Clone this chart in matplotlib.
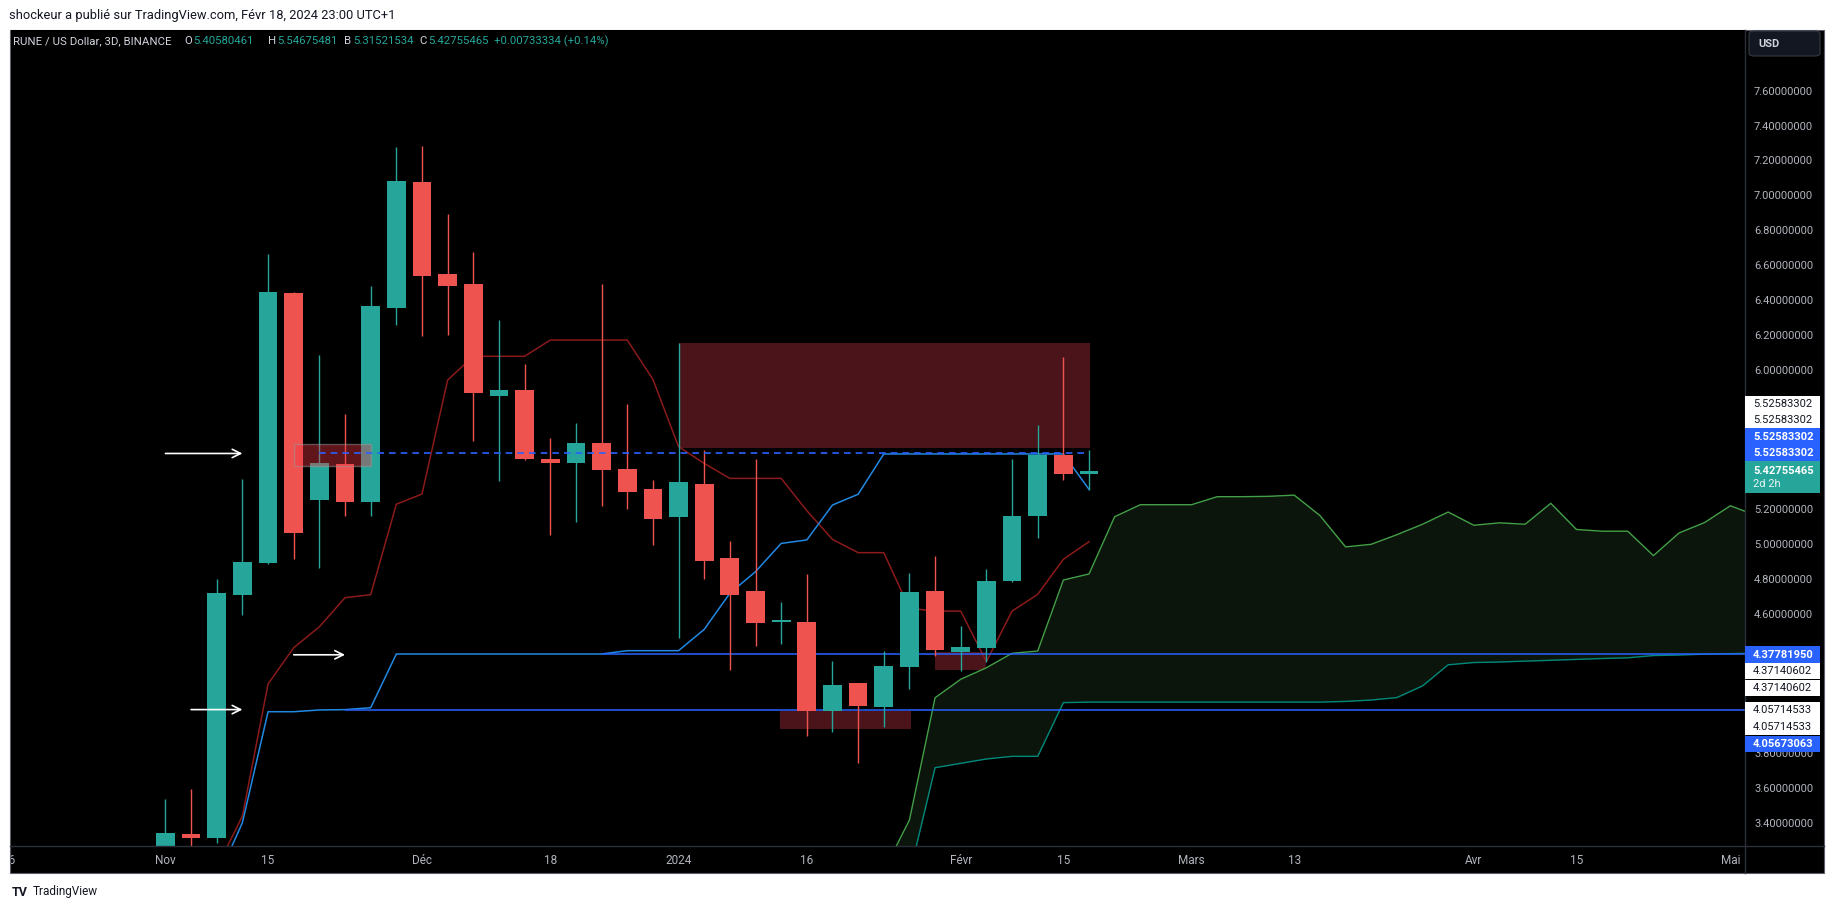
import matplotlib
matplotlib.use("Agg")
import matplotlib.pyplot as plt
from matplotlib.patches import Rectangle, FancyBboxPatch
from matplotlib.lines import Line2D
from matplotlib.transforms import blended_transform_factory, Bbox, TransformedBbox

plt.rcParams['font.family'] = ['Roboto', 'DejaVu Sans']

# ---- candles (3D bars, index 0 = early Nov 2023) ----
bar_idx = list(range(37))
opens = [3.25, 3.344, 3.322, 4.716, 4.898, 6.446, 5.26, 5.465, 5.25, 6.361, 7.082, 6.555, 6.497,
         5.857, 5.889, 5.493, 5.473, 5.586, 5.437, 5.322, 5.163, 5.351, 4.926, 4.737, 4.561,
         4.559, 4.051, 4.209, 4.074, 4.303, 4.737, 4.387, 4.412, 4.796, 5.169, 5.517, 5.40580461]
highs = [3.544, 3.60, 4.806, 5.38, 6.669, 6.45, 6.09, 5.75, 6.486, 7.283, 7.289, 6.899, 6.681,
         6.291, 6.039, 5.614, 5.70, 6.497, 5.809, 5.373, 6.161, 5.546, 5.024, 5.494, 4.674,
         4.834, 4.336, 4.212, 4.393, 4.843, 4.938, 4.536, 4.863, 5.494, 5.689, 6.079, 5.54675481]
lows = [3.20, 3.20, 3.29, 4.60, 4.89, 4.92, 4.87, 5.17, 5.17, 6.264, 6.201, 6.207, 5.599,
        5.37, 5.49, 5.058, 5.134, 5.226, 5.209, 5.003, 4.466, 4.804, 4.282, 4.423, 4.435,
        3.907, 3.930, 3.753, 3.959, 4.177, 4.366, 4.279, 4.332, 4.79, 5.043, 5.375, 5.31521534]
closes = [3.349, 3.322, 4.725, 4.903, 6.451, 5.07, 5.47, 5.25, 6.37, 7.087, 6.545, 6.488, 5.874,
          5.889, 5.496, 5.473, 5.586, 5.433, 5.307, 5.152, 5.362, 4.911, 4.716, 4.555, 4.571,
          4.051, 4.198, 4.079, 4.307, 4.731, 4.399, 4.416, 4.794, 5.167, 5.517, 5.406, 5.42755465]

# ---- ichimoku lines ----
line_idx = list(range(2, 37))
red_line = [3.15, 3.447, 4.204, 4.412, 4.532, 4.699, 4.716, 5.235, 5.293, 5.947, 6.083, 6.083,
            6.083, 6.176, 6.176, 6.176, 6.176, 5.951, 5.565, 5.469, 5.383, 5.383, 5.383, 5.198,
            5.033, 4.957, 4.957, 4.638, 4.622, 4.622, 4.332, 4.622, 4.718, 4.919, 5.020]
blue_line = [3.08, 3.409, 4.045, 4.045, 4.055, 4.057, 4.068,
             4.376, 4.376, 4.376, 4.376, 4.376, 4.376, 4.376, 4.376, 4.376,
             4.395, 4.395, 4.395, 4.517, 4.724, 4.848, 5.010, 5.030, 5.230, 5.292,
             5.523, 5.523, 5.523, 5.523, 5.523, 5.523, 5.523, 5.523, 5.320]
cloud_idx = list(range(28, 63))
span_a = [3.133, 3.424, 4.125, 4.231, 4.297, 4.380, 4.393, 4.800, 4.835, 5.163, 5.232, 5.232,
          5.232, 5.278, 5.278, 5.28, 5.287, 5.17, 4.99, 5.005, 5.06, 5.12, 5.19, 5.114, 5.128,
          5.12, 5.24, 5.09, 5.08, 5.08, 4.94, 5.07, 5.13, 5.226, 5.17]
span_b = [2.5, 3.11, 3.724, 3.749, 3.774, 3.789, 3.789, 4.097,
          4.10, 4.10, 4.10, 4.10, 4.10, 4.10, 4.10, 4.10, 4.10, 4.10,
          4.104, 4.112, 4.126, 4.193, 4.314, 4.327, 4.33, 4.335, 4.34, 4.345, 4.35,
          4.354, 4.367, 4.37, 4.375, 4.378, 4.38]

# ---- drawings ----
hline_levels = [4.37781950, 4.05673063]
hline_start = [17, 7]
dashed_level = 5.52583302
arrow_levels = [5.52583302, 4.37140602, 4.05714533]
arrow_start = [0.0, 5.0, 1.0]
arrow_end = [3.0, 7.0, 3.0]
# (left idx, right idx, low, high)
zones = [(20.0, 36.03, 5.555, 6.161), (23.97, 29.05, 3.947, 4.049), (30.0, 32.0, 4.285, 4.388)]
small_zone = (5.0, 8.0, 5.452, 5.578)

# ---- axis texts ----
price_ticks = [7.6, 7.4, 7.2, 7.0, 6.8, 6.6, 6.4, 6.2, 6.0, 5.8, 5.6, 5.4, 5.2, 5.0, 4.8, 4.6,
               4.4, 4.2, 4.0, 3.8, 3.6, 3.4]
hidden_ticks = [5.8, 5.6, 5.4, 4.4, 4.2, 4.0]
date_pos = [-6.1, 0, 4, 10, 15, 20, 25, 31, 35, 40, 44, 51, 55, 61]
date_text = ['26', 'Nov', '15', 'Déc', '18', '2024', '16', 'Févr', '15', 'Mars', '13', 'Avr', '15', 'Mai']
label_texts = ['5.52583302'] * 4 + ['4.37781950', '4.37140602', '4.37140602',
                                    '4.05714533', '4.05714533', '4.05673063']
label_kinds = ['w', 'w', 'b', 'b', 'b', 'w', 'w', 'w', 'w', 'b']
label_pos = [5.811, 5.717, 5.623, 5.529, 4.372, 4.278, 4.181, 4.053, 3.957, 3.860]
ohlc_letters = ['O', 'H', 'B', 'C']
ohlc_values = ['5.40580461', '5.54675481', '5.31521534', '5.42755465']
ohlc_x = [184.3, 268.3, 344.3, 419.3]
change_text = '+0.00733334 (+0.14%)'

W, H = 1835, 909
fig = plt.figure(figsize=(W / 100, H / 100), dpi=100, facecolor='white')


def fx(px):
    return px / W


def fy(py):
    return 1 - py / H


fig.patches.append(Rectangle((fx(10), fy(873)), fx(1824) - fx(10), fy(30) - fy(873),
                             transform=fig.transFigure, facecolor='black',
                             edgecolor='#5d606b', lw=0.8, zorder=-2))

ax = fig.add_axes([fx(10.5), fy(846), fx(1745) - fx(10.5), fy(30) - fy(846)])
ax.set_facecolor('black')
for s in ax.spines.values():
    s.set_visible(False)
ax.set_xticks([])
ax.set_yticks([])
ax.set_xlim(-6.04, 61.57)
ax.set_ylim(3.275, 7.954)

# zones behind candles
for x0, x1, y0, y1 in zones:
    ax.add_patch(Rectangle((x0, y0), x1 - x0, y1 - y0, facecolor='#4a141a', lw=0, zorder=0.5))

# cloud
ax.fill_between(cloud_idx, span_a, span_b, color='#0b150c', lw=0, zorder=1)
ax.plot(cloud_idx, span_a, color='#43a047', lw=1.0, zorder=2)
ax.plot(cloud_idx, span_b, color='#00897b', lw=1.0, zorder=2)

ax.plot(line_idx, red_line, color='#8b1a1a', lw=1.1, zorder=2.2)
ax.plot(line_idx, blue_line, color='#2189e3', lw=1.1, zorder=2.2)

for lvl, st in zip(hline_levels, hline_start):
    ax.hlines(lvl, st, 62, color='#2962ff', lw=1.1, zorder=2.4)

# candles
up, down = '#26a69a', '#ef5350'
colors = [up if c >= o else down for o, c in zip(opens, closes)]
ax.vlines(bar_idx, lows, highs, colors=colors, lw=1.0, zorder=4)
body_h = [max(abs(c - o), 0.01) for o, c in zip(opens, closes)]
body_b = [min(o, c) for o, c in zip(opens, closes)]
ax.bar(bar_idx, body_h, bottom=body_b, width=0.73, color=colors, lw=0, zorder=4.5)

# small zone on top
x0, x1, y0, y1 = small_zone
ax.add_patch(Rectangle((x0, y0), x1 - x0, y1 - y0, facecolor=(0.95, 0.21, 0.27, 0.4),
                       edgecolor=(0.6, 0.6, 0.6, 0.5), lw=1, zorder=5))

ax.hlines(dashed_level, 6, 36, color='#2962ff', lw=1.2, linestyles=(0, (4, 3)), zorder=6)

for s, e, lvl in zip(arrow_start, arrow_end, arrow_levels):
    ax.annotate('', xy=(e, lvl), xytext=(s, lvl),
                arrowprops=dict(arrowstyle='->', color='white', lw=1.2,
                                shrinkA=0, shrinkB=0, mutation_scale=15), zorder=7)

# separators
fig.add_artist(Line2D([fx(1745), fx(1745)], [fy(30), fy(873)], transform=fig.transFigure,
                      color='#2a2e39', lw=1))
fig.add_artist(Line2D([fx(10), fx(1824)], [fy(846), fy(846)], transform=fig.transFigure,
                      color='#2a2e39', lw=1))

# header
fig.text(fx(9), fy(15), 'shockeur a publié sur TradingView.com, Févr 18, 2024 23:00 UTC+1',
         color='#131722', fontsize=9.3, va='center')
fig.text(fx(13.3), fy(41), 'RUNE / US Dollar, 3D, BINANCE', color='#d1d4dc', fontsize=8.2, va='center')
for let, val, px in zip(ohlc_letters, ohlc_values, ohlc_x):
    fig.text(fx(px), fy(41), let, color='#d1d4dc', fontsize=8.2, va='center')
    fig.text(fx(px + 8.5), fy(41), val, color='#26a69a', fontsize=8.2, va='center')
fig.text(fx(494.3), fy(41), change_text, color='#26a69a', fontsize=8.2, va='center')

# price axis
tr = blended_transform_factory(fig.transFigure, ax.transData)
for v in price_ticks:
    if v in hidden_ticks:
        continue
    fig.text(fx(1754), v, '%.8f' % v, transform=tr, color='#b2b5be', fontsize=8,
             va='center', ha='left', zorder=3)

lh = 16.4 / 174.4
for txt, kind, pos in zip(label_texts, label_kinds, label_pos):
    bg = '#2962ff' if kind == 'b' else 'white'
    fg = 'white' if kind == 'b' else '#131722'
    fig.add_artist(Rectangle((fx(1745), pos - lh / 2), fx(1820) - fx(1745), lh, transform=tr,
                             facecolor=bg, lw=0, zorder=4))
    fig.text(fx(1753), pos, txt, transform=tr, color=fg, fontsize=8, va='center', ha='left',
             fontweight='bold' if kind == 'b' else 'normal', zorder=5)

th = 32 / 174.4
fig.add_artist(Rectangle((fx(1745), 5.391 - th / 2), fx(1820) - fx(1745), th, transform=tr,
                         facecolor='#26a69a', lw=0, zorder=4))
fig.text(fx(1753), 5.391 + 0.036, '5.42755465', transform=tr, color='white', fontsize=8,
         va='center', fontweight='bold', zorder=5)
fig.text(fx(1753), 5.391 - 0.038, '2d 2h', transform=tr, color='#e6f4f2', fontsize=8,
         va='center', zorder=5)

# USD button
fig.patches.append(FancyBboxPatch((fx(1749), fy(56)), fx(1820) - fx(1749), fy(31) - fy(56),
                                  boxstyle='round,pad=0,rounding_size=0.003',
                                  transform=fig.transFigure, facecolor='#131722',
                                  edgecolor='#363a45', lw=0.8, zorder=3))
fig.text(fx(1758), fy(44), 'USD', color='#d1d4dc', fontsize=8, fontweight='bold',
         va='center', zorder=4)

# dates
dtr = blended_transform_factory(ax.transData, fig.transFigure)
clip = TransformedBbox(Bbox([[fx(10.5), fy(873)], [fx(1745), fy(846)]]), fig.transFigure)
for p, t in zip(date_pos, date_text):
    d = fig.text(p, fy(860), t, transform=dtr, color='#b2b5be', fontsize=8.5, ha='center', va='center')
    d.set_clip_box(clip)
    d.set_clip_on(True)

# footer
fig.text(fx(12), fy(892), 'TV', color='#131722', fontsize=9, fontweight='bold', va='center')
fig.text(fx(33), fy(892), 'TradingView', color='#131722', fontsize=8.5, va='center')

fig.savefig('out.png', dpi=100, facecolor='white')
plt.close(fig)
